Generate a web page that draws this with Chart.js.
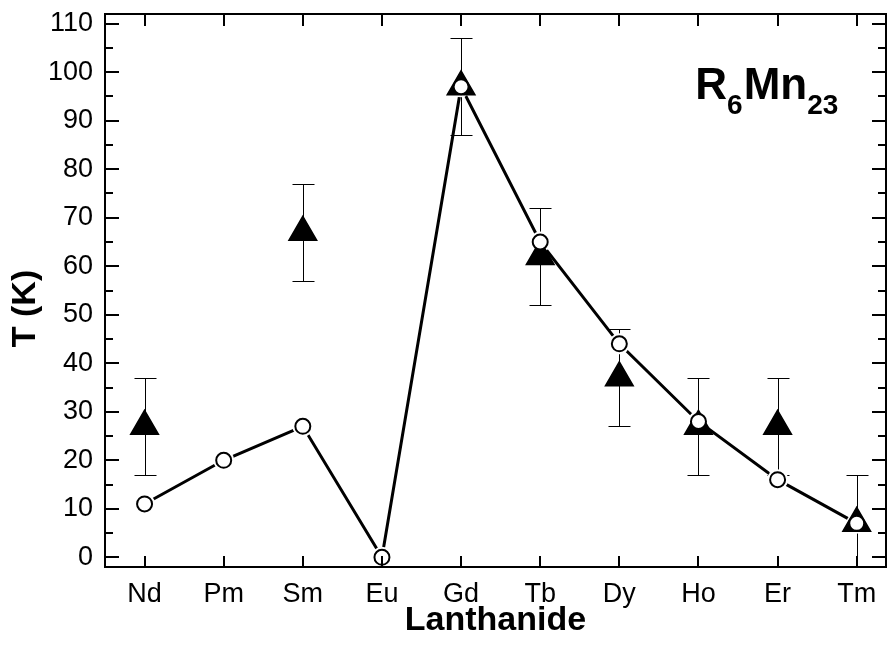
<!DOCTYPE html>
<html>
<head>
<meta charset="utf-8">
<script src="https://cdn.jsdelivr.net/npm/chart.js@4.4.0/dist/chart.umd.min.js"></script>
<style>
  body { margin: 0; background: #fff; }
</style>
</head>
<body>
<canvas id="myGraph" width="887" height="648"></canvas>
<script>
const elements = ['Nd', 'Pm', 'Sm', 'Eu', 'Gd', 'Tb', 'Dy', 'Ho', 'Er', 'Tm'];
const circleT = [11, 20, 27, 0, 97, 65, 44, 28, 16, 7];
const triangleT = [27, null, 67, null, 97, 62, 37, 27, 27, 7];
const triangleErr = [10, null, 10, null, 10, 10, 10, 10, 10, 10];
const yTicks = [0, 10, 20, 30, 40, 50, 60, 70, 80, 90, 100, 110];
const yMinorTicks = [5, 15, 25, 35, 45, 55, 65, 75, 85, 95, 105];

const FONT = "'Liberation Sans', Arial, sans-serif";

// error bars for the triangles, drawn under the markers
const errorBars = {
    id: 'errorBars',
    beforeDatasetsDraw(chart) {
        const ctx = chart.ctx;
        const xs = chart.scales.x;
        const ys = chart.scales.y;
        const area = chart.chartArea;
        ctx.save();
        ctx.beginPath();
        ctx.rect(area.left, area.top, area.right - area.left, area.bottom - area.top);
        ctx.clip();
        ctx.strokeStyle = '#000';
        ctx.lineWidth = 1;
        for (let i = 0; i < triangleT.length; i++) {
            if (triangleT[i] === null) continue;
            const x = Math.round(xs.getPixelForValue(i)) + 0.5;
            const yTop = Math.round(ys.getPixelForValue(triangleT[i] + triangleErr[i])) + 0.5;
            const yBot = Math.round(ys.getPixelForValue(triangleT[i] - triangleErr[i])) + 0.5;
            ctx.beginPath();
            ctx.moveTo(x, yTop);
            ctx.lineTo(x, yBot);
            ctx.moveTo(x - 11, yTop);
            ctx.lineTo(x + 11, yTop);
            ctx.moveTo(x - 11, yBot);
            ctx.lineTo(x + 11, yBot);
            ctx.stroke();
        }
        ctx.restore();
    }
};

// box frame with inward ticks on all four sides
const frame = {
    id: 'frame',
    afterDatasetsDraw(chart) {
        const ctx = chart.ctx;
        const xs = chart.scales.x;
        const ys = chart.scales.y;
        const a = chart.chartArea;
        ctx.save();
        ctx.strokeStyle = '#000';
        ctx.lineWidth = 2;
        ctx.strokeRect(a.left, a.top, a.right - a.left, a.bottom - a.top);
        ctx.beginPath();
        yTicks.forEach(v => {
            const y = Math.round(ys.getPixelForValue(v));
            ctx.moveTo(a.left, y); ctx.lineTo(a.left + 14, y);
            ctx.moveTo(a.right, y); ctx.lineTo(a.right - 14, y);
        });
        yMinorTicks.forEach(v => {
            const y = Math.round(ys.getPixelForValue(v));
            ctx.moveTo(a.left, y); ctx.lineTo(a.left + 8, y);
            ctx.moveTo(a.right, y); ctx.lineTo(a.right - 8, y);
        });
        elements.forEach((e, i) => {
            const x = Math.round(xs.getPixelForValue(i));
            ctx.moveTo(x, a.bottom); ctx.lineTo(x, a.bottom - 11);
            ctx.moveTo(x, a.top); ctx.lineTo(x, a.top + 12);
        });
        ctx.stroke();
        ctx.restore();
    }
};

// compound label R6Mn23 and the rotated y title
const labels = {
    id: 'labels',
    afterDraw(chart) {
        const ctx = chart.ctx;
        const a = chart.chartArea;
        let x = chart.scales.x.getPixelForValue(6.96);
        const y = chart.scales.y.getPixelForValue(94.5);
        ctx.save();
        ctx.fillStyle = '#000';
        ctx.textBaseline = 'alphabetic';
        ctx.textAlign = 'left';
        const parts = [['R', false], ['6', true], ['Mn', false], ['23', true]];
        parts.forEach(p => {
            ctx.font = p[1] ? `bold 28px ${FONT}` : `bold 44px ${FONT}`;
            ctx.fillText(p[0], x, p[1] ? y + 15 : y);
            x += ctx.measureText(p[0]).width + (p[1] ? 1 : 0);
        });
        ctx.translate(26, (a.top + a.bottom) / 2 + 18);
        ctx.rotate(-Math.PI / 2);
        ctx.font = `bold 34px ${FONT}`;
        ctx.textAlign = 'center';
        ctx.textBaseline = 'middle';
        ctx.fillText('T (K)', 0, 0);
        ctx.restore();
    }
};

const noPad = s => {
    s.paddingTop = 0;
    s.paddingBottom = 0;
    s.paddingLeft = 0;
    s.paddingRight = 0;
};

const circlePoints = elements.map((e, i) => ({ x: i, y: circleT[i] }));

const ctx = document.getElementById('myGraph').getContext('2d');
const myChart = new Chart(ctx, {
    type: 'scatter',
    data: {
        datasets: [{
            label: 'circles',
            data: circlePoints,
            showLine: false,
            pointStyle: 'circle',
            pointRadius: 7.5,
            pointBorderWidth: 2,
            pointBackgroundColor: '#fff',
            pointBorderColor: '#000',
            order: 0,
        }, {
            label: 'triangles',
            data: elements.map((e, i) => ({ x: i, y: triangleT[i] })).filter(p => p.y !== null),
            showLine: false,
            pointStyle: 'triangle',
            pointRadius: 16,
            pointBorderWidth: 1.5,
            pointBackgroundColor: '#000',
            pointBorderColor: '#000',
            order: 1,
        }, {
            // white halo that leaves a small gap between the line and the circles
            label: 'halo',
            data: circlePoints,
            showLine: false,
            pointStyle: 'circle',
            pointRadius: 10.5,
            pointBorderWidth: 0,
            pointBackgroundColor: '#fff',
            pointBorderColor: '#fff',
            order: 2,
        }, {
            label: 'line',
            data: circlePoints,
            showLine: true,
            borderColor: '#000',
            borderWidth: 3,
            pointRadius: 0,
            order: 3,
        }]
    },
    options: {
        responsive: false,
        animation: false,
        devicePixelRatio: 1,
        layout: { autoPadding: false, padding: { top: 14, right: 1 } },
        plugins: { legend: { display: false }, tooltip: { enabled: false } },
        scales: {
            x: {
                type: 'linear',
                min: -0.5,
                max: 9.37,
                afterBuildTicks: s => { s.ticks = elements.map((e, i) => ({ value: i })); },
                afterFit: s => { s.height = 81; noPad(s); },
                grid: { display: false, drawTicks: false },
                border: { display: false },
                ticks: {
                    callback: v => elements[v],
                    font: { family: FONT, size: 27 },
                    color: '#000',
                    padding: 11,
                    maxRotation: 0,
                    autoSkip: false,
                },
                title: {
                    display: true,
                    text: 'Lanthanide',
                    font: { family: FONT, size: 34, weight: 'bold' },
                    color: '#000',
                    padding: { top: 0, bottom: 7 },
                },
            },
            y: {
                min: -2,
                max: 112,
                afterBuildTicks: s => { s.ticks = yTicks.map(v => ({ value: v })); },
                afterFit: s => { s.width = 105; noPad(s); },
                grid: { display: false, drawTicks: false },
                border: { display: false },
                ticks: {
                    font: { family: FONT, size: 27 },
                    color: '#000',
                    padding: 12,
                },
            }
        }
    },
    plugins: [errorBars, frame, labels]
});
</script>
</body>
</html>
